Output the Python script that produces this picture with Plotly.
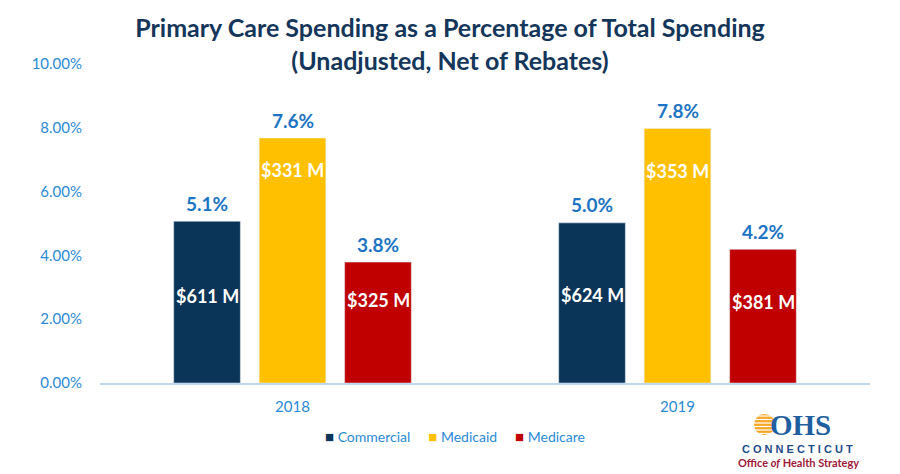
import plotly.graph_objects as go

years = ["2018", "2019"]
series = ["Commercial", "Medicaid", "Medicare"]
pct_values = {
    "Commercial": [5.07, 5.02],
    "Medicaid": [7.68, 7.98],
    "Medicare": [3.79, 4.19],
}
pct_labels = {
    "Commercial": ["5.1%", "5.0%"],
    "Medicaid": ["7.6%", "7.8%"],
    "Medicare": ["3.8%", "4.2%"],
}
dollar_labels = {
    "Commercial": ["$611 M", "$624 M"],
    "Medicaid": ["$331 M", "$353 M"],
    "Medicare": ["$325 M", "$381 M"],
}
tick_vals = [0, 2, 4, 6, 8, 10]
tick_text = ["0.00%", "2.00%", "4.00%", "6.00%", "8.00%", "10.00%"]

colors = {"Commercial": "#0B3558", "Medicaid": "#FFC000", "Medicare": "#C00000"}
# label anchor heights (data units) for the white in-bar labels
inner_y = {"Commercial": [2.73, 2.76], "Medicaid": [6.68, 6.65], "Medicare": [2.6, 2.55]}
shift_px = {"Commercial": -85.5, "Medicaid": 0, "Medicare": 85.5}

FONT = "Lato"
BLUE = "#2A8AD6"

fig = go.Figure()
for s in series:
    fig.add_trace(go.Bar(
        name=s, x=years, y=pct_values[s], marker_color=colors[s],
    ))
    for i, yr in enumerate(years):
        fig.add_annotation(
            x=i, y=pct_values[s][i], xref="x", yref="y", text="<b>" + pct_labels[s][i] + "</b>",
            showarrow=False, xshift=shift_px[s], yshift=18, yanchor="middle",
            font=dict(family=FONT, size=19, color="#1C75C4"),
        )
        fig.add_annotation(
            x=i, y=inner_y[s][i], xref="x", yref="y", text="<b>" + dollar_labels[s][i] + "</b>",
            showarrow=False, xshift=shift_px[s],
            font=dict(family=FONT, size=18, color="white"),
        )

fig.update_layout(
    width=900, height=474,
    margin=dict(l=100, r=30, t=64, b=91),
    paper_bgcolor="white", plot_bgcolor="white",
    barmode="group", bargap=0.334, bargroupgap=0.22,
    title=dict(
        text="<b>Primary Care Spending as a Percentage of Total Spending<br>(Unadjusted, Net of Rebates)</b>",
        x=0.5, xanchor="center", yref="container", y=1 - 37 / 474, yanchor="middle",
        font=dict(family=FONT, size=25, color="#14365A"),
    ),
    showlegend=False,
)
fig.update_xaxes(
    type="category", range=[-0.5, 1.5],
    showgrid=False, showline=True, linecolor="#BDD7EE", linewidth=1.5,
    ticks="", tickfont=dict(family=FONT, size=15, color=BLUE), ticklabelstandoff=9,
)
fig.update_yaxes(
    range=[0, 10], tickvals=tick_vals, ticktext=tick_text, showgrid=False,
    zeroline=False, showline=False, ticks="",
    tickfont=dict(family=FONT, size=15, color=BLUE), ticklabelstandoff=17,
)

# Legend (manual, to match tight marker/text spacing)
legend_text = "&nbsp;&nbsp;&nbsp;&nbsp;&nbsp;".join(
    f"<span style='color:{colors[s]}; font-size:15px'>■</span> {s}" for s in series
)
fig.add_annotation(xref="paper", yref="paper", x=(455 - 100) / 770, y=(383 - 436) / 319,
                   text=legend_text, showarrow=False, xanchor="center", yanchor="middle",
                   font=dict(family=FONT, size=14, color=BLUE))

# Logo
fig.add_shape(type="circle", xref="paper", yref="paper",
              x0=(754 - 100) / 770, x1=(775 - 100) / 770,
              y0=(383 - 435) / 319, y1=(383 - 414) / 319,
              fillcolor="#F5A623", line=dict(width=0), layer="above")
for k in range(6):
    yy = 416 + k * 3.5
    fig.add_shape(type="line", xref="paper", yref="paper",
                  x0=(752 - 100) / 770, x1=(772 - 100) / 770,
                  y0=(383 - yy) / 319, y1=(383 - yy) / 319,
                  line=dict(color="white", width=1.2), layer="above")
fig.add_annotation(xref="paper", yref="paper", x=(800 - 100) / 770, y=(383 - 425) / 319,
                   text="<b>OHS</b>", showarrow=False, xanchor="center", yanchor="middle",
                   font=dict(family="Liberation Serif", size=29, color="#1F5FA0"))
fig.add_annotation(xref="paper", yref="paper", x=(797 - 100) / 770, y=(383 - 449) / 319,
                   text="<b>C O N N E C T I C U T</b>", showarrow=False, xanchor="center", yanchor="middle",
                   font=dict(family="Liberation Sans", size=11, color="#1F4E8C"))
fig.add_annotation(xref="paper", yref="paper", x=(798 - 100) / 770, y=(383 - 462) / 319,
                   text="<b>Office <i>of</i> Health Strategy</b>", showarrow=False, xanchor="center", yanchor="middle",
                   font=dict(family=FONT, size=11, color="#A0183A"))

fig.write_html("out.html")
